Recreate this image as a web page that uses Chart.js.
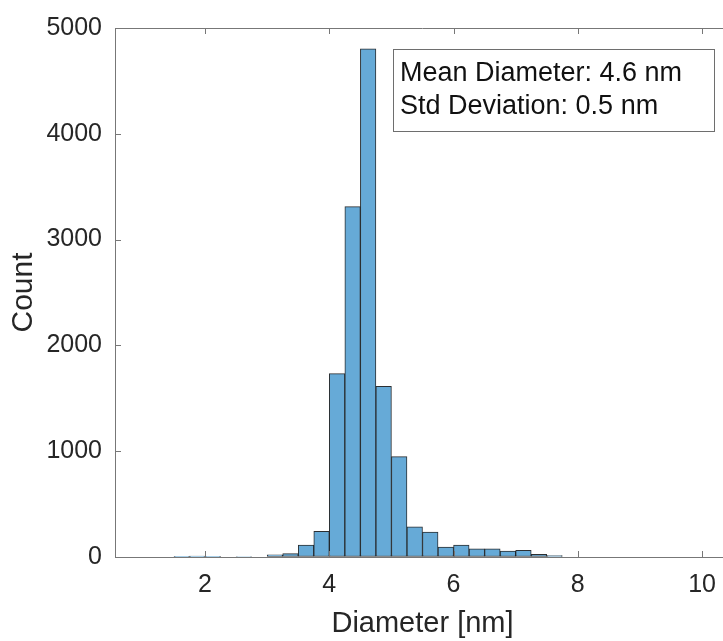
<!DOCTYPE html>
<html>
<head>
<meta charset="utf-8">
<script src="https://cdn.jsdelivr.net/npm/chart.js@4.4.1/dist/chart.umd.min.js"></script>
<style>
  html, body { margin: 0; padding: 0; background: #fff; overflow: hidden; }
  #wrap { width: 735px; height: 641px; }
</style>
</head>
<body>
<div id="wrap"><canvas id="histChart"></canvas></div>
<script>
// bin centres (bin width 0.25 nm) and counts
const binCenters = [1.625, 1.875, 2.125, 2.375, 2.625, 2.875, 3.125, 3.375, 3.625, 3.875,
                    4.125, 4.375, 4.625, 4.875, 5.125, 5.375, 5.625, 5.875, 6.125, 6.375,
                    6.625, 6.875, 7.125, 7.375, 7.625];
const counts = [6, 8, 6, 0, 5, 0, 20, 32, 113, 242,
                1733, 3311, 4803, 1613, 948, 285, 235, 94, 113, 77,
                77, 55, 63, 26, 13];
const xTicks = [2, 4, 6, 8, 10];
const yTicks = [0, 1000, 2000, 3000, 4000, 5000];
const infoLines = ['Mean Diameter: 4.6 nm', 'Std Deviation: 0.5 nm'];

const axisColor = '#777777';
const textColor = '#262626';
const fontFamily = '"Liberation Sans", Arial, sans-serif';

// inward ticks + top edge of the box, like the matlab axes
const boxPlugin = {
    id: 'boxPlugin',
    afterDatasetsDraw(chart) {
        const { ctx, chartArea: a, scales: { x, y } } = chart;
        ctx.save();
        ctx.strokeStyle = axisColor;
        ctx.lineWidth = 1;
        ctx.beginPath();
        ctx.moveTo(a.left, a.top + 0.5);
        ctx.lineTo(a.right, a.top + 0.5);
        x.ticks.forEach(t => {
            const px = Math.round(x.getPixelForValue(t.value)) + 0.5;
            ctx.moveTo(px, a.bottom);
            ctx.lineTo(px, a.bottom - 6);
            ctx.moveTo(px, a.top);
            ctx.lineTo(px, a.top + 6);
        });
        y.ticks.forEach(t => {
            const py = Math.round(y.getPixelForValue(t.value)) + 0.5;
            ctx.moveTo(a.left, py);
            ctx.lineTo(a.left + 6, py);
        });
        ctx.stroke();

        // text box with the stats
        const bx = a.left + 278, by = a.top + 21, bw = 321, bh = 82;
        ctx.fillStyle = '#fff';
        ctx.fillRect(bx, by, bw, bh);
        ctx.strokeStyle = '#6e6e6e';
        ctx.strokeRect(bx + 0.5, by + 0.5, bw, bh);
        ctx.fillStyle = '#111';
        ctx.font = '27px ' + fontFamily;
        ctx.textBaseline = 'alphabetic';
        ctx.textAlign = 'left';
        ctx.fillText(infoLines[0], bx + 7, by + 32);
        ctx.fillText(infoLines[1], bx + 7, by + 65);
        ctx.restore();
    }
};

const ctx = document.getElementById('histChart').getContext('2d');
const histChart = new Chart(ctx, {
    type: 'bar',
    data: {
        datasets: [{
            data: binCenters.map((c, i) => ({ x: c, y: counts[i] })),
            backgroundColor: 'rgb(102, 170, 215)',
            borderColor: 'rgba(20, 24, 28, 0.9)',
            borderWidth: 1,
            borderSkipped: false,
            barPercentage: 1,
            categoryPercentage: 1
        }]
    },
    options: {
        responsive: true,
        maintainAspectRatio: false,
        animation: false,
        layout: { padding: { top: 24, right: 5, left: 0, bottom: 0 } },
        plugins: {
            legend: { display: false },
            tooltip: { enabled: false }
        },
        scales: {
            x: {
                type: 'linear',
                min: 0.55,
                max: 10.45,
                offset: false,
                afterBuildTicks: s => { s.ticks = xTicks.map(v => ({ value: v })); },
                afterFit: s => { s.height = 84; },
                grid: { drawOnChartArea: false, drawTicks: false },
                border: { display: true, color: axisColor, width: 1 },
                ticks: {
                    padding: 13,
                    color: textColor,
                    font: { family: fontFamily, size: 25 },
                    maxRotation: 0,
                    callback: v => String(v)
                },
                title: {
                    display: true,
                    text: 'Diameter [nm]',
                    color: textColor,
                    font: { family: fontFamily, size: 29 },
                    padding: { top: 0, bottom: 0 }
                }
            },
            y: {
                min: 0,
                max: 5000,
                afterBuildTicks: s => { s.ticks = yTicks.map(v => ({ value: v })); },
                afterFit: s => { s.width = 115; },
                grid: { drawOnChartArea: false, drawTicks: false },
                border: { display: true, color: axisColor, width: 1 },
                ticks: {
                    padding: 13,
                    color: textColor,
                    font: { family: fontFamily, size: 25 },
                    callback: v => String(v)
                },
                title: {
                    display: true,
                    text: 'Count',
                    color: textColor,
                    font: { family: fontFamily, size: 30 },
                    padding: { top: 6, bottom: 0 }
                }
            }
        }
    },
    plugins: [boxPlugin]
});
</script>
</body>
</html>
